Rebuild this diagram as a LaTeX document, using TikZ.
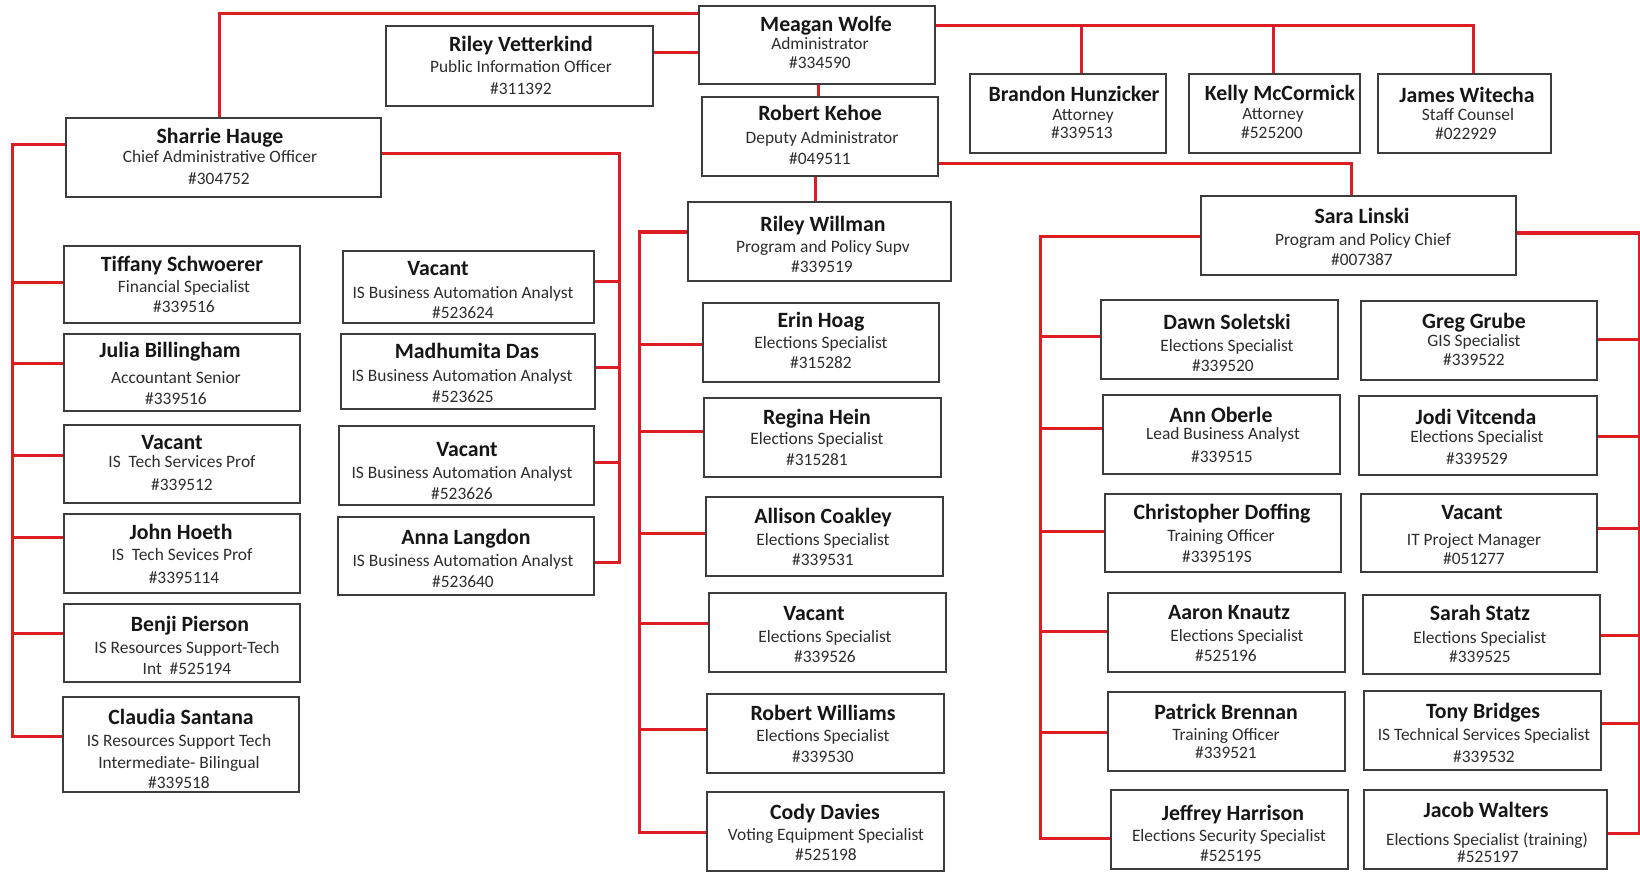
\documentclass[tikz,border=0pt]{standalone}
\usepackage{fontspec}
\setmainfont{Carlito}
\definecolor{linered}{RGB}{222,28,36}
\definecolor{boxgray}{RGB}{60,60,60}
\definecolor{nametext}{RGB}{22,22,22}
\definecolor{titletext}{RGB}{45,45,45}
\newcommand\mkbox[5]{\pgfmathsetmacro\pbw{(#4-#2)*0.5}\pgfmathsetmacro\pbh{(#5-#3)*0.5}%
  \node[pbox, minimum width=\pbw pt, minimum height=\pbh pt] (#1) at ({(#2+#4)/2},{(#3+#5)/2}) {};}
\newcommand\mktext[7]{\node[nm] (#1-n) at (#2) {#5};\node[tl] (#1-t) at (#3) {#6};\node[tl] (#1-p) at (#4) {#7};}
\begin{document}
\begin{tikzpicture}[x=0.5pt,y=-0.5pt,
  pbox/.style={draw=boxgray, line width=0.8pt, fill=white, inner sep=0pt},
  conn/.style={draw=linered, line width=1.5pt},
  nm/.style={font=\fontsize{10.9}{12}\selectfont\bfseries, text=nametext, inner sep=0pt, anchor=base, yshift=-3.5pt},
  tl/.style={font=\fontsize{8.7}{10}\selectfont, text=titletext, inner sep=0pt, anchor=base, yshift=-2.7pt}]
\useasboundingbox[fill=white] (0,0) rectangle (1640,872);
% boxes
\mkbox{meagan}{699}{6}{935}{84}
\mkbox{vet}{386}{26}{653}{106}
\mkbox{kehoe}{702}{97}{938}{176}
\mkbox{brandon}{970}{74}{1166}{153}
\mkbox{kelly}{1189}{74}{1360}{153}
\mkbox{james}{1378}{74}{1551}{153}
\mkbox{sharrie}{66}{118}{381}{197}
\mkbox{willman}{688}{202}{951}{281}
\mkbox{sara}{1201}{196}{1516}{275}
\mkbox{tif}{64}{246}{300}{323}
\mkbox{jul}{64}{334}{300}{411}
\mkbox{vis}{64}{425}{300}{503}
\mkbox{john}{64}{514}{300}{593}
\mkbox{benji}{64}{604}{300}{682}
\mkbox{claudia}{63}{697}{299}{792}
\mkbox{va}{343}{251}{594}{323}
\mkbox{mad}{341}{334}{595}{409}
\mkbox{vb}{339}{426}{594}{505}
\mkbox{anna}{338}{517}{594}{595}
\mkbox{erin}{703}{303}{939}{382}
\mkbox{regina}{704}{398}{941}{477}
\mkbox{allison}{706}{497}{943}{576}
\mkbox{vc}{709}{593}{946}{672}
\mkbox{rw}{707}{694}{944}{773}
\mkbox{cody}{707}{792}{944}{871}
\mkbox{dawn}{1101}{300}{1338}{379}
\mkbox{greg}{1361}{301}{1597}{380}
\mkbox{ann}{1103}{395}{1340}{474}
\mkbox{jodi}{1359}{396}{1597}{475}
\mkbox{chris}{1105}{494}{1341}{572}
\mkbox{vit}{1361}{494}{1597}{572}
\mkbox{aaron}{1108}{593}{1345}{672}
\mkbox{sarah}{1363}{595}{1600}{674}
\mkbox{patrick}{1108}{692}{1345}{771}
\mkbox{tony}{1364}{691}{1601}{770}
\mkbox{jeff}{1111}{790}{1348}{869}
\mkbox{jacob}{1364}{790}{1607}{869}
% texts
\mktext{meagan}{826,25}{820,44}{820,63}{Meagan Wolfe}{Administrator}{\#334590}
\mktext{vet}{521,45}{521,67}{521,89}{Riley Vetterkind}{Public Information Officer}{\#311392}
\mktext{kehoe}{820,114}{822,138}{820,159}{Robert Kehoe}{Deputy Administrator}{\#049511}
\mktext{brandon}{1074,95}{1083,115}{1082,133}{Brandon Hunzicker}{Attorney}{\#339513}
\mktext{kelly}{1280,94}{1273,114}{1272,133}{Kelly McCormick}{Attorney}{\#525200}
\mktext{james}{1467,96}{1468,115}{1466,134}{James Witecha}{Staff Counsel}{\#022929}
\mktext{sharrie}{220,137}{220,157}{219,179}{Sharrie Hauge}{Chief Administrative Officer}{\#304752}
\mktext{willman}{823,224}{823,247}{822,267}{Riley Willman}{Program and Policy Supv}{\#339519}
\mktext{sara}{1362,217}{1363,240}{1362,260}{Sara Linski}{Program and Policy Chief}{\#007387}
\mktext{tif}{182,264}{184,287}{184,307}{Tiffany Schwoerer}{Financial Specialist}{\#339516}
\mktext{jul}{170,350}{176,378}{176,399}{Julia Billingham}{Accountant Senior}{\#339516}
\mktext{vis}{172,442}{182,462}{182,485}{Vacant}{IS\ \ Tech Services Prof}{\#339512}
\mktext{john}{181,532}{182,555}{184,578}{John Hoeth}{IS\ \ Tech Sevices Prof}{\#3395114}
\mktext{benji}{190,624}{187,648}{187,669}{Benji Pierson}{IS Resources Support-Tech}{Int\ \ \#525194}
\mktext{claudia}{181,717}{179,741}{179,783}{Claudia Santana}{IS Resources Support Tech}{\#339518}
\node[tl] (claudia-t2) at (179,763) {Intermediate- Bilingual};
\mktext{va}{438,269}{463,293}{463,313}{Vacant}{IS Business Automation Analyst}{\#523624}
\mktext{mad}{467,351}{462,376}{463,397}{Madhumita Das}{IS Business Automation Analyst}{\#523625}
\mktext{vb}{467,449}{462,473}{462,494}{Vacant}{IS Business Automation Analyst}{\#523626}
\mktext{anna}{466,537}{463,561}{463,582}{Anna Langdon}{IS Business Automation Analyst}{\#523640}
\mktext{erin}{821,320}{821,343}{821,363}{Erin Hoag}{Elections Specialist}{\#315282}
\mktext{regina}{817,417}{817,439}{817,460}{Regina Hein}{Elections Specialist}{\#315281}
\mktext{allison}{823,516}{823,540}{823,560}{Allison Coakley}{Elections Specialist}{\#339531}
\mktext{vc}{814,613}{825,637}{825,657}{Vacant}{Elections Specialist}{\#339526}
\mktext{rw}{823,713}{823,736}{823,757}{Robert Williams}{Elections Specialist}{\#339530}
\mktext{cody}{825,812}{826,835}{826,855}{Cody Davies}{Voting Equipment Specialist}{\#525198}
\mktext{dawn}{1227,322}{1227,346}{1223,366}{Dawn Soletski}{Elections Specialist}{\#339520}
\mktext{greg}{1474,321}{1474,341}{1474,360}{Greg Grube}{GIS Specialist}{\#339522}
\mktext{ann}{1221,415}{1223,434}{1222,457}{Ann Oberle}{Lead Business Analyst}{\#339515}
\mktext{jodi}{1476,417}{1477,437}{1477,459}{Jodi Vitcenda}{Elections Specialist}{\#339529}
\mktext{chris}{1222,512}{1221,536}{1217,557}{Christopher Doffing}{Training Officer}{\#339519S}
\mktext{vit}{1472,512}{1474,540}{1474,559}{Vacant}{IT Project Manager}{\#051277}
\mktext{aaron}{1229,612}{1237,636}{1226,656}{Aaron Knautz}{Elections Specialist}{\#525196}
\mktext{sarah}{1480,613}{1480,638}{1480,657}{Sarah Statz}{Elections Specialist}{\#339525}
\mktext{patrick}{1226,712}{1226,735}{1226,753}{Patrick Brennan}{Training Officer}{\#339521}
\mktext{tony}{1483,711}{1484,735}{1484,757}{Tony Bridges}{IS Technical Services Specialist}{\#339532}
\mktext{jeff}{1233,813}{1229,836}{1231,856}{Jeffrey Harrison}{Elections Security Specialist}{\#525195}
\mktext{jacob}{1486,810}{1487,840}{1488,857}{Jacob Walters}{Elections Specialist (training)}{\#525197}
% connectors
\coordinate (topbar) at (1473,26);
\coordinate (lbar) at (12,145);
\coordinate (sbar) at (619,154);
\coordinate (wbar) at (639,232);
\coordinate (slbar) at (1040,236);
\coordinate (srbar) at (1639,233);
\draw[conn] (meagan.west |- 0,14) -| (219,0 |- sharrie.north);
\draw[conn] (vet.east |- 0,53) -- (meagan.west |- 0,53);
\draw[conn] (818,0 |- meagan.south) -- (818,0 |- kehoe.north);
\draw[conn] (meagan.east |- topbar) -- (topbar) -- (topbar |- james.north);
\draw[conn] (1081,0 |- topbar) -- (1081,0 |- brandon.north);
\draw[conn] (1273,0 |- topbar) -- (1273,0 |- kelly.north);
\draw[conn] (kehoe.east |- 0,164) -| (1351,0 |- sara.north);
\draw[conn] (815,0 |- kehoe.south) -- (815,0 |- willman.north);
% Sharrie left
\draw[conn] (sharrie.west |- lbar) -- (lbar) -- (lbar |- 0,736) -- (claudia.west |- 0,736);
\foreach \b/\yy in {tif/282, jul/363, vis/455, john/537, benji/633}
  \draw[conn] (\b.west |- 0,\yy) -- (lbar |- 0,\yy);
% Sharrie right
\draw[conn] (sharrie.east |- sbar) -- (sbar) -- (sbar |- 0,562) -- (anna.east |- 0,562);
\foreach \b/\yy in {va/281, mad/367, vb/462}
  \draw[conn] (\b.east |- 0,\yy) -- (sbar |- 0,\yy);
% Willman
\draw[conn] (willman.west |- wbar) -- (wbar) -- (wbar |- 0,832) -- (cody.west |- 0,832);
\foreach \b/\yy in {erin/344, regina/431, allison/533, vc/623, rw/729}
  \draw[conn] (\b.west |- 0,\yy) -- (wbar |- 0,\yy);
% Sara left
\draw[conn] (sara.west |- slbar) -- (slbar) -- (slbar |- 0,838) -- (jeff.west |- 0,838);
\foreach \b/\yy in {dawn/336, ann/428, chris/531, aaron/631, patrick/732}
  \draw[conn] (\b.west |- 0,\yy) -- (slbar |- 0,\yy);
% Sara right
\draw[conn] (sara.east |- srbar) -- (srbar) -- (srbar |- 0,833) -- (jacob.east |- 0,833);
\foreach \b/\yy in {greg/339, jodi/436, vit/528, sarah/635, tony/723}
  \draw[conn] (\b.east |- 0,\yy) -- (srbar |- 0,\yy);
\end{tikzpicture}
\end{document}
